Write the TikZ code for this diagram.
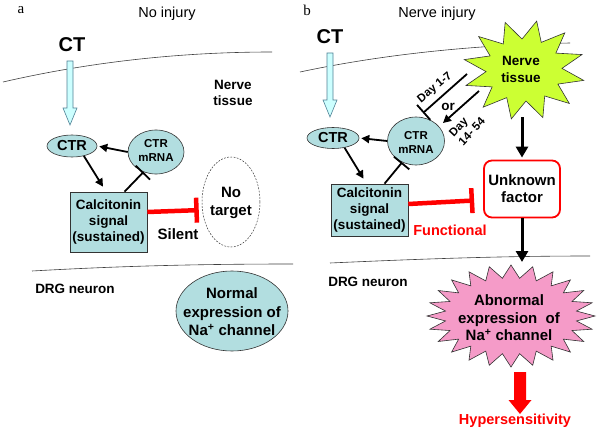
\documentclass[tikz,border=0pt]{standalone}
\usepackage{fontspec}
\setmainfont{Liberation Sans}
\newfontfamily\seriffont{Liberation Serif}
\usetikzlibrary{arrows.meta,shapes.geometric,calc}
\definecolor{cfill}{RGB}{178,222,224}
\definecolor{hfill}{RGB}{204,255,255}
\definecolor{hdraw}{RGB}{80,130,150}
\definecolor{sgreen}{RGB}{204,255,51}
\definecolor{spink}{RGB}{245,155,200}
\definecolor{myred}{RGB}{255,0,0}
\begin{document}
\begin{tikzpicture}[x=1pt,y=-1pt,
  lbl/.style={inner sep=0pt, align=center, font=\bfseries\fontsize{13.5}{16}\selectfont},
  big/.style={inner sep=0pt, align=center, font=\bfseries\fontsize{15}{18}\selectfont},
  ell/.style={ellipse, draw=black!80, fill=cfill, line width=0.6pt, inner sep=0pt},
  sig/.style={rectangle, draw=black!80, fill=cfill, line width=0.6pt, minimum width=77, inner sep=0pt, align=center, font=\bfseries\fontsize{13.5}{16}\selectfont},
  blk/.style={line width=1.8pt, -{Triangle[length=8pt,width=8pt]}},
  bigblk/.style={line width=3pt, -{Triangle[length=11pt,width=12pt]}},
  tbar/.style={line width=1.8pt, -{Bar[width=20pt]}},
  redbar/.style={draw=myred, line width=4.5pt, -{Bar[width=25pt]}},
  hollow/.style={draw=hdraw, fill=hfill, line width=0.6pt},
  memb/.style={line width=0.6pt, draw=black!75}
]
\useasboundingbox (0,0) rectangle (600,444);
\fill[white] (0,0) rectangle (600,444);

% ---------------- panel a ----------------
\node[inner sep=0pt, font=\seriffont\fontsize{15}{18}\selectfont] (la) at (21,10) {a};
\node[inner sep=0pt, font=\fontsize{14.5}{17}\selectfont] (tna) at (167,14) {No injury};
\node[inner sep=0pt, font=\bfseries\fontsize{20}{24}\selectfont] (CTa) at (72,45) {CT};
\draw[memb] (3,82) .. controls (90,62) and (180,52) .. (272,52);
\node[lbl] (nta) at (233,93) {Nerve\\tissue};

\coordinate (hAa) at (70,61);
\coordinate (hAb) at (70,125);
\draw[hollow] ($(hAa)+(-3,0)$) -- ($(hAa)+(3,0)$) -- ($(hAb)+(3,-17)$) -- ($(hAb)+(7,-17)$) -- (hAb) -- ($(hAb)+(-7,-17)$) -- ($(hAb)+(-3,-17)$) -- cycle;

\node[ell, minimum width=50, minimum height=22, font=\bfseries\fontsize{14.5}{17}\selectfont] (CTRa) at (72,146) {CTR};
\node[ell, minimum width=56, minimum height=44] (mRNAa) at (156,152) {};
\node[inner sep=0pt, align=center, font=\bfseries\fontsize{11.5}{14}\selectfont] (mRNAat) at (156,150) {CTR\\mRNA};
\node[sig, minimum height=60] (siga) at (108.5,222) {Calcitonin\\signal\\(sustained)};
\node[ellipse, draw=black!80, dash pattern=on 1.8pt off 1.4pt, line width=0.5pt, minimum width=58, minimum height=90, inner sep=0pt] (nota) at (231,202) {};
\node[big, font=\bfseries\fontsize{15}{18}\selectfont] (notat) at (231,203) {No\\target};
\node[big] (sil) at (178,234) {Silent};
\draw[memb] (32,271) .. controls (120,266) and (200,264) .. (293,264);
\node[lbl] (drga) at (75,289) {DRG neuron};
\node[ell, minimum width=112, minimum height=80] (norm) at (232,311) {};
\node[inner sep=0pt, align=center, font=\bfseries\fontsize{15}{18.5}\selectfont] (normt) at (232,312) {Normal\\expression of\\Na\textsuperscript{+} channel};

\draw[blk, shorten >=2pt] (mRNAa.west) -- (CTRa.east);
\draw[blk] (CTRa.-40) -- ([xshift=-5.5pt,yshift=5pt]siga.north);
\draw[tbar] ([xshift=16pt]siga.north) -- (mRNAa.238);
\draw[redbar, shorten >=3pt] ([yshift=10pt]siga.east) -- ([yshift=-8pt]nota.west);

% ---------------- panel b ----------------
\node[inner sep=0pt, font=\seriffont\fontsize{15}{18}\selectfont] (lb) at (307,10) {b};
\node[inner sep=0pt, font=\fontsize{14.5}{17}\selectfont] (tnb) at (437,14) {Nerve injury};
\node[inner sep=0pt, font=\bfseries\fontsize{20}{24}\selectfont] (CTb) at (330,37) {CT};
\draw[memb] (300,72) .. controls (380,55) and (470,45) .. (570,43);

\draw[draw=black!80, fill=sgreen, line width=0.6pt]
  plot[samples at={0,...,23}] ({524+ifthenelse(mod(\x,2)==0,61,38)*cos(78+\x*15)}, {70-ifthenelse(mod(\x,2)==0,50,31)*sin(78+\x*15)}) -- cycle;
\node[lbl, font=\bfseries\fontsize{13.5}{17}\selectfont] (ntb) at (521,69) {Nerve\\tissue};

\coordinate (hBa) at (330,53);
\coordinate (hBb) at (330,117);
\draw[hollow] ($(hBa)+(-3,0)$) -- ($(hBa)+(3,0)$) -- ($(hBb)+(3,-17)$) -- ($(hBb)+(7,-17)$) -- (hBb) -- ($(hBb)+(-7,-17)$) -- ($(hBb)+(-3,-17)$) -- cycle;

\node[ell, minimum width=52, minimum height=21, font=\bfseries\fontsize{14.5}{17}\selectfont] (CTRb) at (333,138) {CTR};
\node[ell, minimum width=57, minimum height=48] (mRNAb) at (416,141) {};
\node[inner sep=0pt, align=center, font=\bfseries\fontsize{11.5}{14}\selectfont] (mRNAbt) at (416,142) {CTR\\mRNA};
\node[sig, minimum height=52] (sigb) at (369.5,210) {Calcitonin\\signal\\(sustained)};
\node[draw=myred, line width=1.8pt, rounded corners=8pt, minimum width=76, minimum height=57, fill=white, inner sep=0pt, align=center, font=\bfseries\fontsize{15}{17}\selectfont] (unk) at (522,189) {Unknown\\factor};
\node[big, text=myred, font=\bfseries\fontsize{14.5}{17}\selectfont] (func) at (450,230) {Functional};

\coordinate (d1s) at (467,74);
\coordinate (d1e) at (423,113);
\coordinate (d2s) at (479,91);
\coordinate (d2e) at (443,123);
\draw[tbar] (d1s) -- (d1e);
\draw[blk] (d2s) -- (d2e);
\node[inner sep=0pt, rotate=40, font=\bfseries\fontsize{11.5}{13}\selectfont] (day1) at (435,88) {Day 1-7};
\node[inner sep=0pt, font=\bfseries\fontsize{13.5}{16}\selectfont] (or) at (448,107) {or};
\node[inner sep=0pt, rotate=47, align=left, font=\bfseries\fontsize{11.5}{13}\selectfont] (day2) at (467,127) {Day\\14- 54};

\draw[blk, shorten >=2pt] (mRNAb.west) -- (CTRb.east);
\draw[blk] (CTRb.-40) -- ([xshift=-6pt,yshift=5pt]sigb.north);
\draw[tbar] ([xshift=15pt]sigb.north) -- (mRNAb.237);
\draw[redbar, shorten >=9pt] ([yshift=6pt]sigb.east) -- ([yshift=-11pt]unk.west);

\coordinate (ntbot) at (522,117);
\draw[bigblk, shorten >=2pt] (ntbot) -- (unk.north);

\draw[memb] (330,263) .. controls (420,259) and (500,256) .. (590,256);
\node[lbl] (drgb) at (368,282) {DRG neuron};

\draw[draw=black!80, fill=spink, line width=0.6pt]
  plot[samples at={0,...,47}] ({511+ifthenelse(mod(\x,2)==0,84,66)*cos(\x*7.5)}, {316-ifthenelse(mod(\x,2)==0,51,38)*sin(\x*7.5)}) -- cycle;
\node[inner sep=0pt, align=center, font=\bfseries\fontsize{15}{17.5}\selectfont] (abn) at (509,318) {Abnormal\\expression~~of\\Na\textsuperscript{+} channel};

\coordinate (abtop) at (522,262);
\draw[bigblk] (unk.south) -- (abtop);

\coordinate (rA) at (520,372);
\coordinate (rB) at (520,414);
\fill[myred] ($(rA)+(-6,0)$) -- ($(rA)+(6,0)$) -- ($(rB)+(6,-14)$) -- ($(rB)+(11.5,-14)$) -- (rB) -- ($(rB)+(-11.5,-14)$) -- ($(rB)+(-6,-14)$) -- cycle;
\node[big, text=myred, font=\bfseries\fontsize{14.5}{17}\selectfont] (hyp) at (515,421) {Hypersensitivity};
\end{tikzpicture}
\end{document}
